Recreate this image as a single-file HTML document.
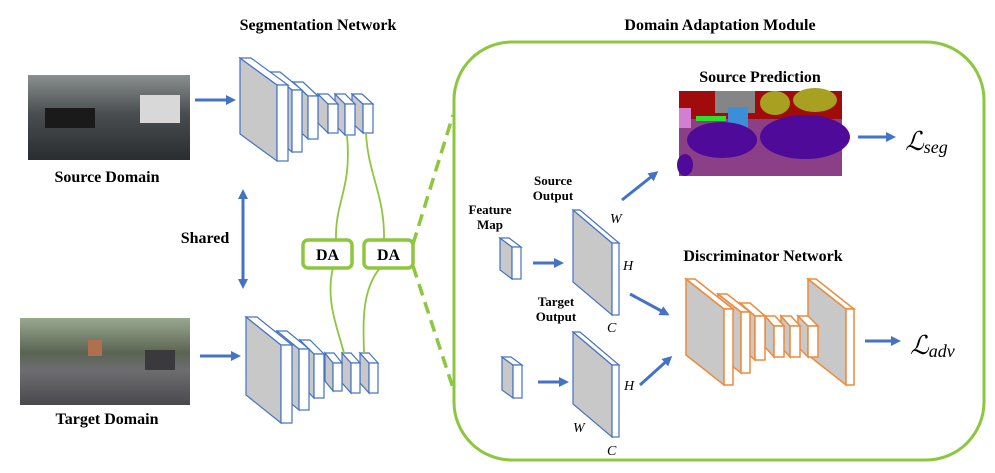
<!DOCTYPE html>
<html><head><meta charset="utf-8"><style>
html,body{margin:0;padding:0;background:#fff;}
svg{display:block;}
text{font-family:"Liberation Serif",serif;}
.b{fill:#fff;stroke:#4472c4;stroke-width:1.2;}
.bg{fill:#c8c8c8;stroke:#4472c4;stroke-width:1.2;}
.o{fill:#fff;stroke:#ee8a3c;stroke-width:1.5;}
.og{fill:#c8c8c8;stroke:#ee8a3c;stroke-width:1.5;}
.t{font-weight:bold;font-size:16px;}
.s{font-weight:bold;font-size:13px;}
.i{font-style:italic;font-size:14px;}
</style></head><body>
<svg width="995" height="473" viewBox="0 0 995 473" xmlns="http://www.w3.org/2000/svg">
<defs>
<marker id="ah" markerWidth="10" markerHeight="10" refX="7" refY="5" orient="auto" markerUnits="userSpaceOnUse"><path d="M0,0 L10,5 L0,10 Z" fill="#4472c4"/></marker>
<marker id="ah2" markerWidth="10" markerHeight="10" refX="3" refY="5" orient="auto-start-reverse" markerUnits="userSpaceOnUse"><path d="M0,0 L10,5 L0,10 Z" fill="#4472c4"/></marker>
<linearGradient id="src" x1="0" y1="0" x2="0" y2="1"><stop offset="0" stop-color="#8a8f90"/><stop offset="0.45" stop-color="#4a4e50"/><stop offset="1" stop-color="#2a2d2f"/></linearGradient>
<linearGradient id="tgt" x1="0" y1="0" x2="0" y2="1"><stop offset="0" stop-color="#9aa890"/><stop offset="0.4" stop-color="#5a6452"/><stop offset="0.6" stop-color="#6d6d70"/><stop offset="1" stop-color="#4a4a4e"/></linearGradient>
</defs>

<text class="t" x="318" y="30" text-anchor="middle">Segmentation Network</text>
<text class="t" x="720" y="30" text-anchor="middle">Domain Adaptation Module</text>

<rect x="28" y="75" width="162" height="85" fill="url(#src)"/>
<rect x="140" y="95" width="40" height="28" fill="#d8d8d8"/>
<rect x="45" y="108" width="50" height="20" fill="#1a1a1a"/>
<text class="t" x="107" y="182" text-anchor="middle">Source Domain</text>
<rect x="20" y="318" width="170" height="87" fill="url(#tgt)"/>
<rect x="145" y="350" width="30" height="20" fill="#3a3a3e"/>
<rect x="88" y="340" width="14" height="16" fill="#b07050"/>
<text class="t" x="107" y="424" text-anchor="middle">Target Domain</text>

<text class="t" x="205" y="243" text-anchor="middle">Shared</text>
<line x1="243" y1="196" x2="243" y2="286" stroke="#4472c4" stroke-width="3" marker-start="url(#ah2)" marker-end="url(#ah)"/>

<line x1="195" y1="100" x2="233" y2="100" stroke="#4472c4" stroke-width="3" marker-end="url(#ah)"/>
<line x1="200" y1="356" x2="238" y2="356" stroke="#4472c4" stroke-width="3" marker-end="url(#ah)"/>

<g>
<polygon class="bg" points="352,94 363,104 363,133 352,123"/><polygon class="b" points="352,94 362,94 373,104 363,104"/><rect class="b" x="363" y="104" width="10" height="29"/>
<polygon class="bg" points="335,94 345,104 345,135 335,125"/><polygon class="b" points="335,94 345,94 355,104 345,104"/><rect class="b" x="345" y="104" width="10" height="31"/>
<polygon class="bg" points="318,94 328,104 328,133 318,123"/><polygon class="b" points="318,94 328,94 338,104 328,104"/><rect class="b" x="328" y="104" width="10" height="29"/>
<polygon class="bg" points="293,82 308,96 308,139 293,125"/><polygon class="b" points="293,82 303,82 318,96 308,96"/><rect class="b" x="308" y="96" width="10" height="43"/>
<polygon class="bg" points="270,72 292,90 292,152 270,134"/><polygon class="b" points="270,72 280,72 302,90 292,90"/><rect class="b" x="292" y="90" width="10" height="62"/>
<polygon class="bg" points="240,58 277,85 277,161 240,134"/><polygon class="b" points="240,58 251,58 288,85 277,85"/><rect class="b" x="277" y="85" width="11" height="76"/>
</g>
<g>
<polygon class="bg" points="360,353 369,363 369,393 360,383"/><polygon class="b" points="360,353 369,353 378,363 369,363"/><rect class="b" x="369" y="363" width="9" height="30"/>
<polygon class="bg" points="342,353 351,363 351,393 342,383"/><polygon class="b" points="342,353 351,353 360,363 351,363"/><rect class="b" x="351" y="363" width="9" height="30"/>
<polygon class="bg" points="325,353 333,363 333,391 325,381"/><polygon class="b" points="325,353 334,353 342,363 333,363"/><rect class="b" x="333" y="363" width="9" height="28"/>
<polygon class="bg" points="300,340 314,354 314,398 300,384"/><polygon class="b" points="300,340 310,340 324,354 314,354"/><rect class="b" x="314" y="354" width="10" height="44"/>
<polygon class="bg" points="277,331 299,349 299,410 277,392"/><polygon class="b" points="277,331 287,331 309,349 299,349"/><rect class="b" x="299" y="349" width="10" height="61"/>
<polygon class="bg" points="246,317 281,345 281,423 246,395"/><polygon class="b" points="246,317 257,317 292,345 281,345"/><rect class="b" x="281" y="345" width="11" height="78"/>
</g>

<g fill="none" stroke="#8dc63f" stroke-width="1.8">
<path d="M347,135 C352,190 335,200 336,240"/>
<path d="M366,133 C368,175 385,195 384,240"/>
<path d="M333,268 C325,300 338,330 344,353"/>
<path d="M380,268 C362,290 363,320 364,353"/>
</g>
<rect x="303" y="240" width="49" height="28" rx="5" fill="#fff" stroke="#8dc63f" stroke-width="3.5"/>
<rect x="364" y="240" width="49" height="28" rx="5" fill="#fff" stroke="#8dc63f" stroke-width="3.5"/>
<text class="t" x="327.5" y="260" text-anchor="middle">DA</text>
<text class="t" x="388.5" y="260" text-anchor="middle">DA</text>
<g stroke="#8dc63f" stroke-width="3.5" stroke-dasharray="12,7">
<line x1="413" y1="244" x2="453" y2="115"/>
<line x1="413" y1="266" x2="453" y2="388"/>
</g>

<rect x="454" y="42" width="530" height="418" rx="58" fill="none" stroke="#8dc63f" stroke-width="3"/>

<text class="t" x="760" y="82" text-anchor="middle">Source Prediction</text>
<rect x="679" y="91" width="163" height="85" fill="#8a3f86"/>
<rect x="679" y="91" width="163" height="28" fill="#a00c0c"/>
<rect x="715" y="91" width="40" height="22" fill="#858585"/>
<ellipse cx="775" cy="103" rx="15" ry="12" fill="#a8a020"/>
<ellipse cx="815" cy="100" rx="22" ry="12" fill="#a8a020"/>
<rect x="679" y="108" width="12" height="20" fill="#d27fd2"/>
<rect x="728" y="107" width="20" height="22" fill="#3a8fd8"/>
<rect x="696" y="116" width="30" height="5" fill="#2ee02e"/>
<ellipse cx="722" cy="140" rx="35" ry="18" fill="#4f0a9a"/>
<ellipse cx="805" cy="137" rx="45" ry="22" fill="#4f0a9a"/>
<ellipse cx="685" cy="165" rx="8" ry="11" fill="#4f0a9a"/>
<line x1="858" y1="137" x2="893" y2="137" stroke="#4472c4" stroke-width="3" marker-end="url(#ah)"/>
<text x="905" y="150" font-size="26" font-style="italic" font-family="Liberation Serif,serif">ℒ<tspan font-size="18" dy="3">seg</tspan></text>

<text class="s" x="490" y="214" text-anchor="middle">Feature</text>
<text class="s" x="490" y="229" text-anchor="middle">Map</text>
<text class="s" x="553" y="185" text-anchor="middle">Source</text>
<text class="s" x="553" y="200" text-anchor="middle">Output</text>
<text class="s" x="556" y="306" text-anchor="middle">Target</text>
<text class="s" x="556" y="321" text-anchor="middle">Output</text>

<polygon class="bg" points="500,238 512,247 512,279 500,270"/><polygon class="b" points="500,238 509,238 521,247 512,247"/><rect class="b" x="512" y="247" width="9" height="32"/>
<polygon class="bg" points="502,357 513,365 513,398 502,390"/><polygon class="b" points="502,357 511,357 522,365 513,365"/><rect class="b" x="513" y="365" width="9" height="33"/>
<polygon class="bg" points="573,210 612,243 612,315 573,282"/><polygon class="b" points="573,210 580,210 619,243 612,243"/><rect class="b" x="612" y="243" width="7" height="72"/>
<polygon class="bg" points="573,332 612,365 612,437 573,404"/><polygon class="b" points="573,332 580,332 619,365 612,365"/><rect class="b" x="612" y="365" width="7" height="72"/>

<text class="i" x="610" y="223">W</text>
<text class="i" x="623" y="270">H</text>
<text class="i" x="607" y="332">C</text>
<text class="i" x="624" y="390">H</text>
<text class="i" x="573" y="432">W</text>
<text class="i" x="607" y="455">C</text>

<g stroke="#4472c4" stroke-width="3">
<line x1="533" y1="263" x2="561" y2="263" marker-end="url(#ah)"/>
<line x1="538" y1="382" x2="566" y2="382" marker-end="url(#ah)"/>
<line x1="622" y1="200" x2="656" y2="173" marker-end="url(#ah)"/>
<line x1="630" y1="294" x2="667" y2="314" marker-end="url(#ah)"/>
<line x1="640" y1="385" x2="670" y2="358" marker-end="url(#ah)"/>
</g>

<text class="t" x="763" y="261" text-anchor="middle">Discriminator Network</text>
<g>
<polygon class="og" points="808,279 846,309 846,385 808,355"/><polygon class="o" points="808,279 816,279 854,309 846,309"/><rect class="o" x="846" y="309" width="8" height="76"/>
<polygon class="og" points="798,316 808,326 808,357 798,347"/><polygon class="o" points="798,316 808,316 818,326 808,326"/><rect class="o" x="808" y="326" width="10" height="31"/>
<polygon class="og" points="781,316 790,326 790,357 781,347"/><polygon class="o" points="781,316 791,316 800,326 790,326"/><rect class="o" x="790" y="326" width="10" height="31"/>
<polygon class="og" points="765,316 774,326 774,357 765,347"/><polygon class="o" points="765,316 775,316 784,326 774,326"/><rect class="o" x="774" y="326" width="10" height="31"/>
<polygon class="og" points="740,303 755,316 755,360 740,347"/><polygon class="o" points="740,303 750,303 765,316 755,316"/><rect class="o" x="755" y="316" width="10" height="44"/>
<polygon class="og" points="718,294 741,312 741,373 718,355"/><polygon class="o" points="718,294 727,294 750,312 741,312"/><rect class="o" x="741" y="312" width="9" height="61"/>
<polygon class="og" points="686,279 724,309 724,385 686,355"/><polygon class="o" points="686,279 695,279 733,309 724,309"/><rect class="o" x="724" y="309" width="9" height="76"/>
</g>
<line x1="865" y1="341" x2="898" y2="341" stroke="#4472c4" stroke-width="3" marker-end="url(#ah)"/>
<text x="910" y="354" font-size="26" font-style="italic" font-family="Liberation Serif,serif">ℒ<tspan font-size="18" dy="3">adv</tspan></text>
</svg>
</body></html>
